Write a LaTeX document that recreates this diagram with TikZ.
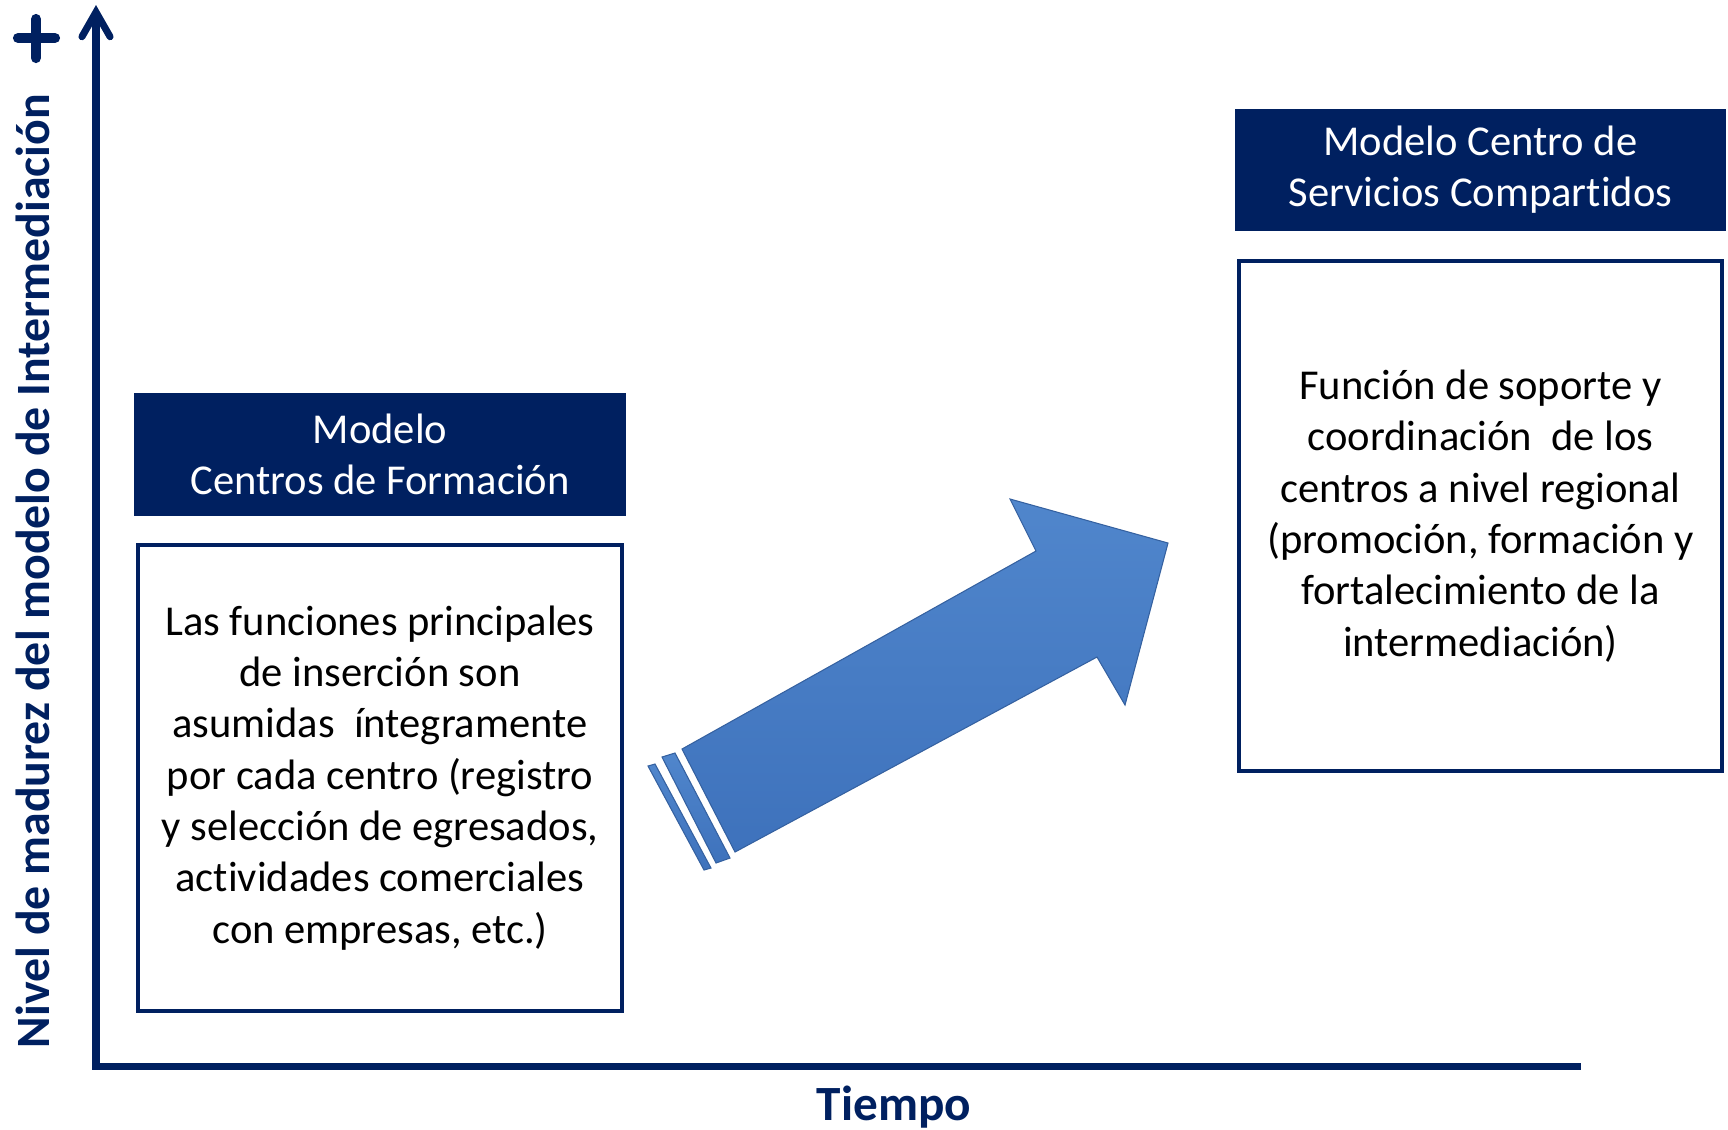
\documentclass[tikz,border=0pt]{standalone}
\usepackage{fontspec}
\setmainfont{Carlito}[Ligatures=NoCommon]
\usetikzlibrary{positioning,arrows.meta}
\definecolor{navy}{RGB}{0,32,96}
\definecolor{arrtop}{RGB}{80,134,204}
\definecolor{arrbot}{RGB}{62,114,188}
\tikzset{
  hdr/.style={fill=navy,text=white,align=center,inner sep=0pt,
    minimum width=4.92cm,minimum height=1.23cm,font=\fontsize{12.1}{14.5}\selectfont},
  bodybox/.style={draw=navy,line width=1.1pt,align=center,inner sep=0pt,
    minimum width=4.84cm,font=\fontsize{12.1}{14.6}\selectfont},
  axis/.style={navy,line width=2pt},
  arr/.style={top color=arrtop,bottom color=arrbot,draw=arrbot!85!black,line width=0.3pt}
}
\begin{document}
\begin{tikzpicture}[x=0.01cm,y=-0.01cm]
    \useasboundingbox (0,0) rectangle (1728,1129);
    % axes
    \coordinate (O) at (96,1066);
    \coordinate (ytop) at (96,5);
    \coordinate (xend) at (1581,1066);
    \draw[axis,{Straight Barb[length=7pt,width=8pt,line cap=round]}-] (ytop)--(O)--(xend);
    \draw[navy,line width=2.9pt,line cap=round] (18,38)--(55,38) (36,19)--(36,58);
    \node[navy,rotate=90,font=\bfseries\fontsize{13.6}{16}\selectfont] (ylab) at (33,571) {Nivel de madurez del modelo de Intermediación};
    \node[navy,font=\bfseries\fontsize{14}{16}\selectfont] (xlab) at (894,1107) {Tiempo};
	% first model
    \node[hdr] (hdrL) at (380,454.5) {Modelo\\Centros de Formación};
    \node[bodybox,minimum height=4.66cm,below=0.26cm of hdrL] (bodyL) {Las funciones principales\\de inserción son\\asumidas~ íntegramente\\por cada centro (registro\\y selección de egresados,\\actividades comerciales\\con empresas, etc.)};
	% second model
    \node[hdr,minimum width=4.91cm,minimum height=1.22cm] (hdrR) at (1480.5,170) {Modelo Centro de\\Servicios Compartidos};
    \node[bodybox,minimum width=4.82cm,minimum height=5.10cm,below=0.27cm of hdrR] (bodyR) {Función de soporte y\\coordinación~ de los\\centros a nivel regional\\(promoción, formación y\\fortalecimiento de la\\intermediación)};
	% big arrow
    \shade[arr] (682,749)--(1036,551)--(1010,499)--(1168,543)--(1125,705)--(1097,657)--(735,852)--cycle;
    \shade[arr] (662,757)--(675,753)--(730,858)--(716,863)--cycle;
    \shade[arr] (648,766)--(655,764)--(711,868)--(704,870)--cycle;
  \end{tikzpicture}
\end{document}
